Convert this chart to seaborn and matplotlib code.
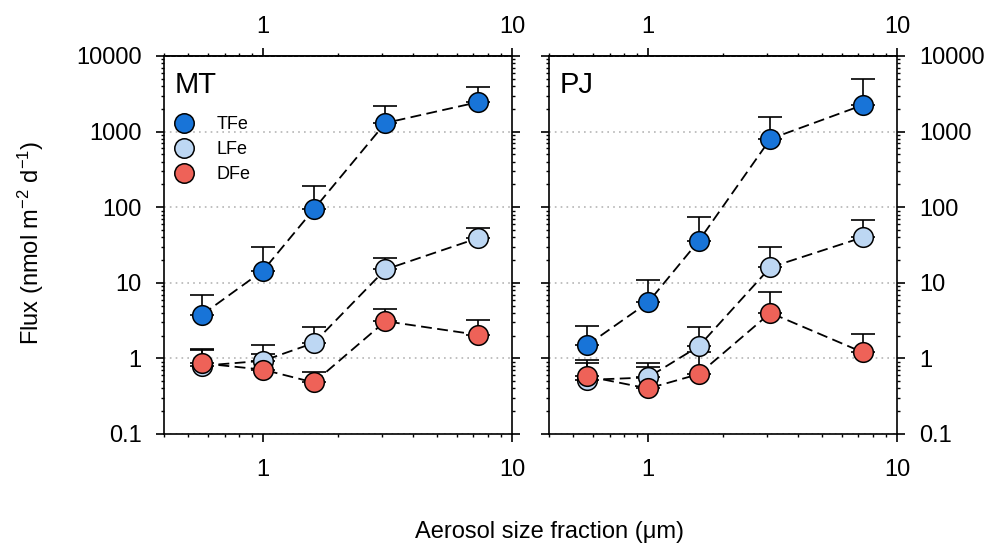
import matplotlib
matplotlib.use("Agg")
import pandas as pd
import matplotlib.pyplot as plt
import seaborn as sns
from matplotlib.lines import Line2D
from matplotlib.ticker import FuncFormatter, LogLocator, NullFormatter

# Aerosol size fraction (um), same for both sites
size_um = [0.57, 1.0, 1.6, 3.1, 7.3]
species = ["TFe", "LFe", "DFe"]

# MT site: mean flux and upper error-bar end
mt_tfe = [3.8, 14.5, 94, 1300, 2450]
mt_tfe_up = [7.0, 29.5, 190, 2150, 3900]
mt_lfe = [0.80, 0.93, 1.6, 15, 39]
mt_lfe_up = [1.34, 1.52, 2.6, 21, 53]
mt_dfe = [0.86, 0.71, 0.48, 3.1, 2.05]
mt_dfe_up = [1.28, 1.16, 0.67, 4.5, 3.2]

# PJ site
pj_tfe = [1.5, 5.5, 36, 800, 2250]
pj_tfe_up = [2.7, 11, 74, 1550, 4900]
pj_lfe = [0.52, 0.56, 1.45, 16, 40]
pj_lfe_up = [0.94, 0.88, 2.6, 30, 67]
pj_dfe = [0.58, 0.40, 0.62, 4.0, 1.2]
pj_dfe_up = [0.86, 0.76, 1.2, 7.5, 2.1]

colors = {"TFe": "#1874d8", "LFe": "#bdd7f3", "DFe": "#ee6258"}

# long-form table
rows = []
site_data = {
    "MT": {"TFe": (mt_tfe, mt_tfe_up), "LFe": (mt_lfe, mt_lfe_up), "DFe": (mt_dfe, mt_dfe_up)},
    "PJ": {"TFe": (pj_tfe, pj_tfe_up), "LFe": (pj_lfe, pj_lfe_up), "DFe": (pj_dfe, pj_dfe_up)},
}
for site, d in site_data.items():
    for sp, (vals, ups) in d.items():
        for x, v, u in zip(size_um, vals, ups):
            rows.append({"site": site, "species": sp, "size": x, "flux": v, "upper": u})
df = pd.DataFrame(rows)

sns.set_style("ticks")
plt.rcParams["font.family"] = ["Liberation Sans", "DejaVu Sans"]
plt.rcParams["mathtext.default"] = "regular"
plt.rcParams["text.color"] = "black"
plt.rcParams["xtick.color"] = "black"
plt.rcParams["ytick.color"] = "black"

fig = plt.figure(figsize=(9.85, 5.43), dpi=100)
ax_mt = fig.add_axes([164 / 985, 1 - 434 / 543, 348 / 985, 378 / 543])
ax_pj = fig.add_axes([549 / 985, 1 - 434 / 543, 348 / 985, 378 / 543])

fmt = FuncFormatter(lambda v, p: "{:g}".format(v))
minor_subs = [2, 3, 4, 5, 6, 7, 8, 9]

for ax, site in [(ax_mt, "MT"), (ax_pj, "PJ")]:
    sub = df[df["site"] == site]
    for i, sp in enumerate(species):
        d = sub[sub["species"] == sp]
        err_up = d["upper"] - d["flux"]
        ax.errorbar(d["size"], d["flux"], yerr=[[0] * len(d), err_up], fmt="none",
                    ecolor="black", elinewidth=1.2, capsize=8.3, capthick=1.2, zorder=2)
        sns.lineplot(data=d, x="size", y="flux", ax=ax, color="black", linewidth=1.3,
                     linestyle=(0, (6, 3)), errorbar=None, zorder=2)
    for i, sp in enumerate(species):
        d = sub[sub["species"] == sp]
        sns.scatterplot(data=d, x="size", y="flux", ax=ax, color=colors[sp], edgecolor="black",
                        linewidth=1.1, s=200, zorder=4 + i, legend=False)

    ax.set_xscale("log")
    ax.set_yscale("log")
    ax.set_xlim(0.4, 10)
    ax.set_ylim(0.1, 10000)
    ax.set_xlabel("")
    ax.set_ylabel("")
    ax.set_yticks([0.1, 1, 10, 100, 1000, 10000])
    ax.yaxis.set_major_formatter(fmt)
    ax.yaxis.set_minor_locator(LogLocator(base=10, subs=minor_subs, numticks=20))
    ax.yaxis.set_minor_formatter(NullFormatter())
    ax.set_xticks([1, 10])
    ax.xaxis.set_major_formatter(fmt)
    ax.xaxis.set_minor_locator(LogLocator(base=10, subs=minor_subs, numticks=20))
    ax.xaxis.set_minor_formatter(NullFormatter())

    ax.grid(axis="y", which="major", linestyle=(0, (1, 2.5)), color="#b5b5b5", linewidth=1.2)
    ax.set_axisbelow(True)
    for s in ax.spines.values():
        s.set_color("black")
        s.set_linewidth(1.2)

    ax.tick_params(axis="both", which="major", direction="out", length=6, width=1.2,
                   labelsize=17, colors="black")
    ax.tick_params(axis="both", which="minor", direction="out", length=2.5, width=1.0)
    ax.tick_params(axis="y", which="both", left=True, right=True, pad=10)
    ax.tick_params(axis="x", which="major", pad=12)

    top = ax.secondary_xaxis("top")
    top.set_xticks([1, 10])
    top.xaxis.set_major_formatter(fmt)
    top.xaxis.set_minor_locator(LogLocator(base=10, subs=minor_subs, numticks=20))
    top.xaxis.set_minor_formatter(NullFormatter())
    top.tick_params(axis="x", which="major", direction="out", length=6, width=1.2,
                    labelsize=17, pad=7, colors="black")
    top.tick_params(axis="x", which="minor", direction="out", length=2.5, width=1.0)
    top.spines["top"].set_linewidth(1.2)
    top.spines["top"].set_color("black")

    ax.text(0.03, 0.923, site, transform=ax.transAxes, fontsize=21, va="center", ha="left")

ax_mt.tick_params(axis="y", which="both", labelleft=True, labelright=False)
ax_pj.tick_params(axis="y", which="both", labelleft=False, labelright=True)

handles = [Line2D([], [], marker="o", linestyle="none", markersize=14,
                  markerfacecolor=colors[sp], markeredgecolor="black", markeredgewidth=1.1)
           for sp in species]
ax_mt.legend(handles, species, loc="upper left", bbox_to_anchor=(-0.025, 0.87), frameon=False,
             fontsize=13, handletextpad=0.8, labelspacing=0.45, borderaxespad=0.2)

fig.text(0.031, 0.552, "Flux (nmol m$^{-2}$ d$^{-1}$)", rotation=90, fontsize=17,
         ha="center", va="center")
fig.text(0.558, 0.02, "Aerosol size fraction (\u03bcm)", fontsize=17, ha="center", va="center")

fig.savefig("out.png", dpi=100)
